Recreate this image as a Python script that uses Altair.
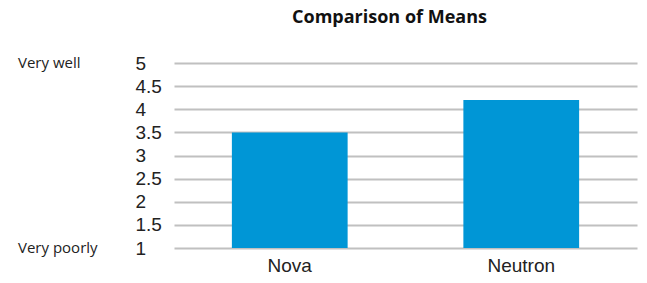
import altair as alt
import pandas as pd

categories = ["Nova", "Neutron"]
means = [3.5, 4.2]
scale_labels = ["Very well", "Very poorly"]
scale_label_values = [5, 1]
y_ticks = [1, 1.5, 2, 2.5, 3, 3.5, 4, 4.5, 5]

bars_df = pd.DataFrame({"product": categories, "mean": means})
side_df = pd.DataFrame({"label": scale_labels, "value": scale_label_values})

y_scale = alt.Scale(domain=[1, 5], zero=False, nice=False)
y_axis = alt.Axis(
    title=None,
    values=y_ticks,
    format="~g",
    labelFont="Liberation Sans",
    labelFontSize=19,
    labelColor="#222222",
    labelAlign="left",
    labelBaseline="middle",
    labelPadding=39,
    ticks=False,
    tickSize=0,
    domain=False,
    grid=True,
    gridColor="#c0c0c0",
    gridWidth=2,
    labelFlush=False,
    labelOverlap=False,
)

bars = alt.Chart(bars_df).mark_bar(color="#0096d6").encode(
    x=alt.X(
        "product:N",
        sort=categories,
        scale=alt.Scale(paddingInner=0.5, paddingOuter=0.25),
        axis=alt.Axis(
            title=None,
            labelAngle=0,
            labelFont="Liberation Sans",
            labelFontSize=19,
            labelColor="#222222",
            labelPadding=8,
            ticks=False,
            tickSize=0,
            domain=False,
            grid=False,
        ),
    ),
    y=alt.Y("mean:Q", scale=y_scale, axis=y_axis),
    y2=alt.datum(1),
)

side = alt.Chart(side_df).mark_text(
    align="left", baseline="middle", font="Open Sans", fontSize=15, color="#222222"
).encode(
    x=alt.value(-156),
    y=alt.Y("value:Q", scale=y_scale, axis=y_axis),
    text="label:N",
)

chart = alt.layer(bars, side).properties(
    width=463,
    height=185,
    autosize=alt.AutoSizeParams(type="none"),
    padding={"left": 166, "top": 55, "right": 2, "bottom": 27},
    title=alt.TitleParams(
        "Comparison of Means",
        font="Open Sans",
        fontSize=18,
        fontWeight="bold",
        color="#111111",
        anchor="middle",
        frame="group",
        dx=-16,
        offset=27,
    ),
).configure_view(stroke=None)

chart.save("out.html", embed_options={"renderer": "svg", "actions": False})
